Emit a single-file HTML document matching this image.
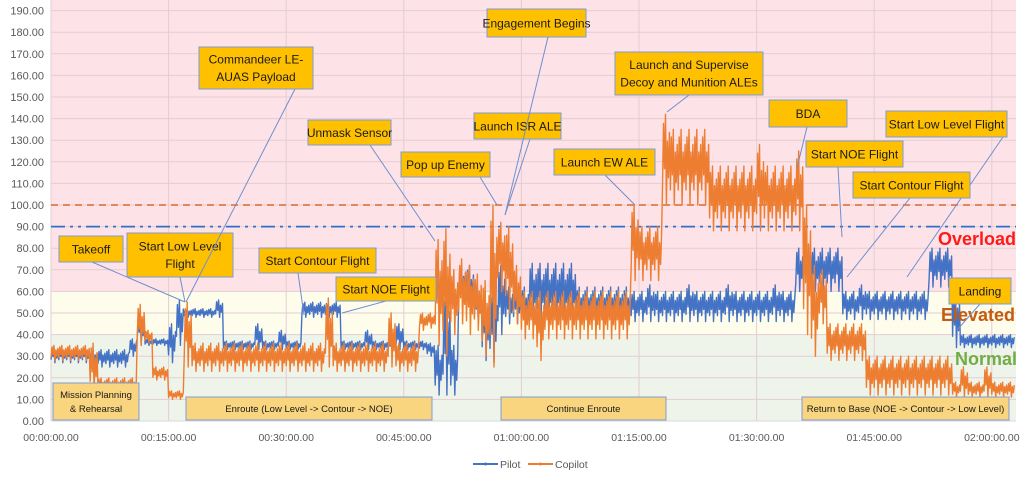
<!DOCTYPE html>
<html><head><meta charset="utf-8"><style>
body{margin:0;background:#fff;width:1024px;height:478px;overflow:hidden;font-family:"Liberation Sans",sans-serif}
svg{display:block}
</style></head><body>
<svg id="chart" width="1024" height="478" xmlns="http://www.w3.org/2000/svg" font-family="Liberation Sans, sans-serif"></svg>
<script>
// --- data (per-minute low/high envelope) ---
const yTicks=[0,10,20,30,40,50,60,70,80,90,100,110,120,130,140,150,160,170,180,190];
const xTickMinutes=[0,15,30,45,60,75,90,105,120];
const xTickLabels=["00:00:00.00","00:15:00.00","00:30:00.00","00:45:00.00","01:00:00.00","01:15:00.00","01:30:00.00","01:45:00.00","02:00:00.00"];
const pilotLo=[27,27,27,27,27,25,25,25,25,25,30,35,35,35,35,27,35,48,48,48,48,48,33,33,33,33,33,33,33,33,33,33,48,48,48,48,48,33,33,33,33,33,33,33,33,33,33,33,30,12,12,12,55,50,45,28,27,40,45,45,45,47,47,47,47,47,47,45,45,45,45,45,45,45,46,46,46,46,46,46,46,46,46,46,46,46,46,46,46,46,46,46,46,46,46,60,60,60,60,60,60,47,47,47,47,47,47,47,47,47,47,47,62,62,62,34,34,34,34,34,34,34,34];
const pilotHi=[34,34,34,34,34,33,33,33,33,33,38,50,38,38,38,45,56,52,52,52,52,56,37,37,37,37,45,37,37,42,37,37,55,55,55,55,55,37,37,37,42,37,37,37,45,37,37,37,36,35,60,35,72,72,62,60,60,72,62,62,62,73,73,73,73,73,73,62,62,62,62,62,62,62,60,60,63,60,60,60,60,63,60,60,60,60,63,60,60,60,60,60,63,60,60,80,80,80,80,80,80,60,60,63,60,60,60,60,60,60,60,60,80,80,80,60,40,40,40,40,40,40,40];
const copLo=[28,28,28,28,28,14,13,13,13,13,13,35,36,19,19,10,10,25,23,23,23,23,23,23,23,23,23,23,23,23,23,23,23,23,23,25,23,23,23,23,23,23,23,25,23,23,23,42,43,35,30,40,45,40,42,30,25,60,50,45,38,38,28,38,38,38,38,38,38,38,38,38,38,38,65,65,65,65,100,100,100,100,100,100,88,88,88,88,88,88,88,88,88,88,88,88,40,30,45,28,28,28,28,28,12,12,12,12,12,12,12,12,12,12,12,11,11,11,11,11,11,11,11];
const copHi=[35,35,35,35,35,36,20,20,20,20,20,54,42,25,25,14,14,55,36,36,36,36,36,36,36,36,36,36,36,36,36,36,36,36,36,57,36,36,36,36,36,36,36,50,36,36,36,50,50,84,89,70,75,72,68,65,100,92,90,72,60,60,60,60,60,60,60,60,60,60,60,60,60,60,100,90,90,90,142,135,135,135,135,135,118,118,118,118,118,118,128,118,118,118,118,125,100,72,70,45,45,45,45,45,30,30,30,30,30,30,30,30,30,30,30,18,25,18,18,25,18,18,18];

// --- geometry ---
const X0=51,PXMIN=7.84,Y0=421,PXU=2.16,RIGHT=1016;
const xs=t=>X0+t*PXMIN, ys=v=>Y0-v*PXU;
const svg=document.getElementById('chart');
const NS='http://www.w3.org/2000/svg';
function mk(tag,attrs,parent){const e=document.createElementNS(NS,tag);for(const k in attrs)e.setAttribute(k,attrs[k]);(parent||svg).appendChild(e);return e;}

// zones
let z=mk('rect',{x:X0,y:0,width:RIGHT-X0,height:ys(60),fill:'#FDE3E7'});


z=mk('rect',{x:X0,y:ys(60),width:RIGHT-X0,height:ys(40)-ys(60),fill:'#FEFDEB'});


z=mk('rect',{x:X0,y:ys(40),width:RIGHT-X0,height:Y0-ys(40),fill:'#EFF4EA'});



// grid + y ticks
yTicks.concat([200]).forEach(v=>{
  const g=mk('line',{x1:X0,x2:RIGHT,y1:ys(v),y2:ys(v),stroke:'#E3CDD2','stroke-width':1});
  
  
});
yTicks.forEach(v=>{
  const t=mk('text',{x:44,y:ys(v)+4,'text-anchor':'end','font-size':11,fill:'#595959'});
  t.textContent=v.toFixed(2);
  
  
});
xTickMinutes.forEach((m,i)=>{
  const g=mk('line',{x1:xs(m),x2:xs(m),y1:0,y2:Y0,stroke:'#E3CDD2','stroke-width':1});
  
  
  const t=mk('text',{x:xs(m),y:441,'text-anchor':'middle','font-size':10.5,fill:'#595959'});
  t.textContent=xTickLabels[i];
  
  
});
let ax=mk('line',{x1:X0,x2:RIGHT,y1:Y0,y2:Y0,stroke:'#D9D9D9'});



// threshold lines
let th=mk('line',{x1:X0,x2:RIGHT,y1:ys(100),y2:ys(100),stroke:'#D96B2B','stroke-width':1.5,'stroke-dasharray':'7,5'});


th=mk('line',{x1:X0,x2:RIGHT,y1:ys(90),y2:ys(90),stroke:'#2E6FC9','stroke-width':1.8,'stroke-dasharray':'14,5,3,5,3,5'});



// series
const pattern=[0.2,0.9,0.4,1,0,0.7,0.3,0.8];
function series(lo,hi,color,name){
  let d='';
  for(let i=0;i<lo.length;i++){
    for(let k=0;k<pattern.length;k++){
      const t=i+k/pattern.length;
      const v=lo[i]+(hi[i]-lo[i])*pattern[k];
      d+=(d?'L':'M')+xs(t).toFixed(1)+','+ys(v).toFixed(1);
    }
  }
  const p=mk('path',{d:d,fill:'none',stroke:color,'stroke-width':1.4,'stroke-linejoin':'round'});
  
  
}
series(pilotLo,pilotHi,'#4472C4','pilot-series');
series(copLo,copHi,'#ED7D31','copilot-series');

// zone labels
function label(txt,x,y,color,name){
  const t=mk('text',{x:x,y:y,'font-size':18,'font-weight':'bold',fill:color});
  t.textContent=txt;
  
  
}
label('Overload',938,245,'#FF1A1A','overload-label');
label('Elevated',941,321,'#C55A11','elevated-label');
label('Normal',955,365,'#70AD47','normal-label');

// callouts
function callout(lines,x,y,w,h,tx,ty,fill,fs,name,lx,ly){
  if(tx!==null){
    const l=mk('line',{x1:lx,y1:ly,x2:tx,y2:ty,stroke:'#6F8FCF','stroke-width':1});
    
    
  }
  const r=mk('rect',{x:x,y:y,width:w,height:h,fill:fill,stroke:'#7F9BD4','stroke-width':1});
  
  
  const n=lines.length,lh=fs*1.45;
  lines.forEach((s,i)=>{
    const t=mk('text',{x:x+w/2,y:y+h/2+(i-(n-1)/2)*lh+fs*0.36,'text-anchor':'middle','font-size':fs,fill:'#1a1a1a'});
    t.textContent=s;
    
    
  });
}
const Y='#FFC000',P='#F8D57E';
callout(['Takeoff'],59,236,64,26,185,302,Y,12,'takeoff-callout',92,262);
callout(['Start Low Level','Flight'],127,233,106,44,185,302,Y,12,'start-low-level-callout',180,277);
callout(['Commandeer LE-','AUAS Payload'],199,47,114,42,186,302,Y,12,'commandeer-callout',295,89);
callout(['Start Contour Flight'],259,248,117,25,304,315,Y,12,'start-contour-callout',298,273);
callout(['Start NOE Flight'],336,277,100,24,342,313,Y,12,'start-noe-callout',386,301);
callout(['Unmask Sensor'],308,120,83,25,435,241,Y,12,'unmask-sensor-callout',370,145);
callout(['Pop up Enemy'],401,152,89,25,497,205,Y,12,'pop-up-enemy-callout',480,177);
callout(['Launch ISR ALE'],474,113,87,26,505,215,Y,12,'launch-isr-callout',530,139);
callout(['Engagement Begins'],487,9,99,28,505,215,Y,12,'engagement-callout',548,37);
callout(['Launch and Supervise','Decoy and Munition ALEs'],615,52,148,43,667,112,Y,12,'launch-supervise-callout',689,95);
callout(['Launch EW ALE'],554,149,101,26,635,205,Y,12,'launch-ew-callout',605,175);
callout(['BDA'],769,100,78,27,797,168,Y,12,'bda-callout',807,127);
callout(['Start NOE Flight'],806,141,97,26,842,237,Y,12,'start-noe-rtb-callout',838,167);
callout(['Start Low Level Flight'],886,111,121,26,907,277,Y,12,'start-low-level-rtb-callout',1003,137);
callout(['Start Contour Flight'],853,172,117,26,847,277,Y,12,'start-contour-rtb-callout',910,198);
callout(['Landing'],949,278,62,26,957,330,Y,12,'landing-callout',980,304);
callout(['Mission Planning','& Rehearsal'],53,383,86,37,null,null,P,9.5,'mission-planning-phase',0,0);
callout(['Enroute (Low Level -> Contour -> NOE)'],186,397,246,23,null,null,P,9.5,'enroute-phase',0,0);
callout(['Continue Enroute'],501,397,165,23,null,null,P,9.5,'continue-enroute-phase',0,0);
callout(['Return to Base (NOE -> Contour -> Low Level)'],802,397,207,23,null,null,P,9.5,'return-to-base-phase',0,0);

// legend
function legend(x,color,txt,name){
  const l=mk('line',{x1:x,x2:x+25,y1:464,y2:464,stroke:color,'stroke-width':2});
  
  
  const c=mk('circle',{cx:x+12.5,cy:464,r:1.5,fill:color});
  
  
  const t=mk('text',{x:x+27,y:468,'font-size':10.5,fill:'#595959'});
  t.textContent=txt;
  
  
}
legend(473,'#4472C4','Pilot','legend-pilot');
legend(528,'#ED7D31','Copilot','legend-copilot');
</script>
</body></html>
